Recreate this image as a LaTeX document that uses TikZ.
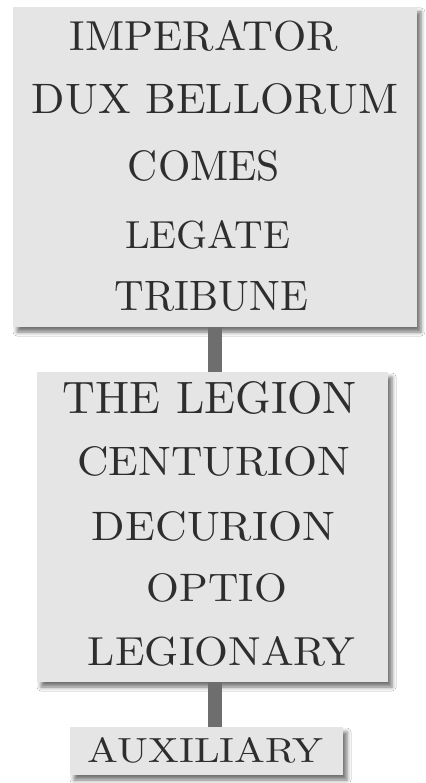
\documentclass[tikz,border=0pt]{standalone}
\usetikzlibrary{shadows.blur}
\definecolor{boxfill}{HTML}{E5E5E5}
\definecolor{connfill}{HTML}{6E6E6E}
\definecolor{ink}{HTML}{2E2E2E}
\tikzset{
  panel/.style={fill=boxfill, draw=none, inner sep=0pt,
    blur shadow={shadow xshift=4pt, shadow yshift=-5pt, shadow blur radius=4pt, shadow opacity=55}},
  conn/.style={draw=connfill, line width=14pt},
  rank/.style={inner sep=0pt, anchor=south, text=ink},
}
\newcommand{\rk}[3]{\resizebox{#1pt}{#2pt}{#3}}
\begin{document}
\begin{tikzpicture}[x=1pt,y=-1pt]
\useasboundingbox[fill=white] (0,0) rectangle (425,783);
\coordinate (cx) at (215,0);
% panels
\node[panel, minimum width=404pt, minimum height=320pt] (b1) at (215,167) {};
\node[panel, minimum width=351pt, minimum height=310pt] (b2) at (212.5,527) {};
\node[panel, minimum width=273pt, minimum height=48pt] (b3) at (206.5,751) {};
% connectors
\begin{scope}[on background layer/.try]
\end{scope}
\draw[conn] (b1.south -| cx) -- (b2.north -| cx);
\draw[conn] (b2.south -| cx) -- (b3.north -| cx);
% re-draw panels' faces over connector ends (no shadow)
% texts box 1
\node[rank] (t1) at (204,52) {\rk{268}{30}{IMPERATOR}};
\node[rank] (t2) at (215,115) {\rk{366}{30}{DUX BELLORUM}};
\node[rank] (t3) at (204,182) {\rk{152}{30}{COMES}};
\node[rank] (t4) at (207.5,250) {\rk{165}{28}{LEGATE}};
\node[rank] (t5) at (211.5,312) {\rk{193}{29}{TRIBUNE}};
% texts box 2
\node[rank] (t6) at (210,415) {\rk{294}{32}{THE LEGION}};
\node[rank] (t7) at (213.5,477) {\rk{273}{29}{CENTURION}};
\node[rank] (t8) at (213.5,542) {\rk{243}{29}{DECURION}};
\node[rank] (t9) at (217,603) {\rk{140}{28}{OPTIO}};
\node[rank] (t10) at (221.5,667) {\rk{267}{29}{LEGIONARY}};
% text box 3
\node[rank] (t11) at (205.5,763) {\rk{235}{25}{AUXILIARY}};
\end{tikzpicture}
\end{document}
